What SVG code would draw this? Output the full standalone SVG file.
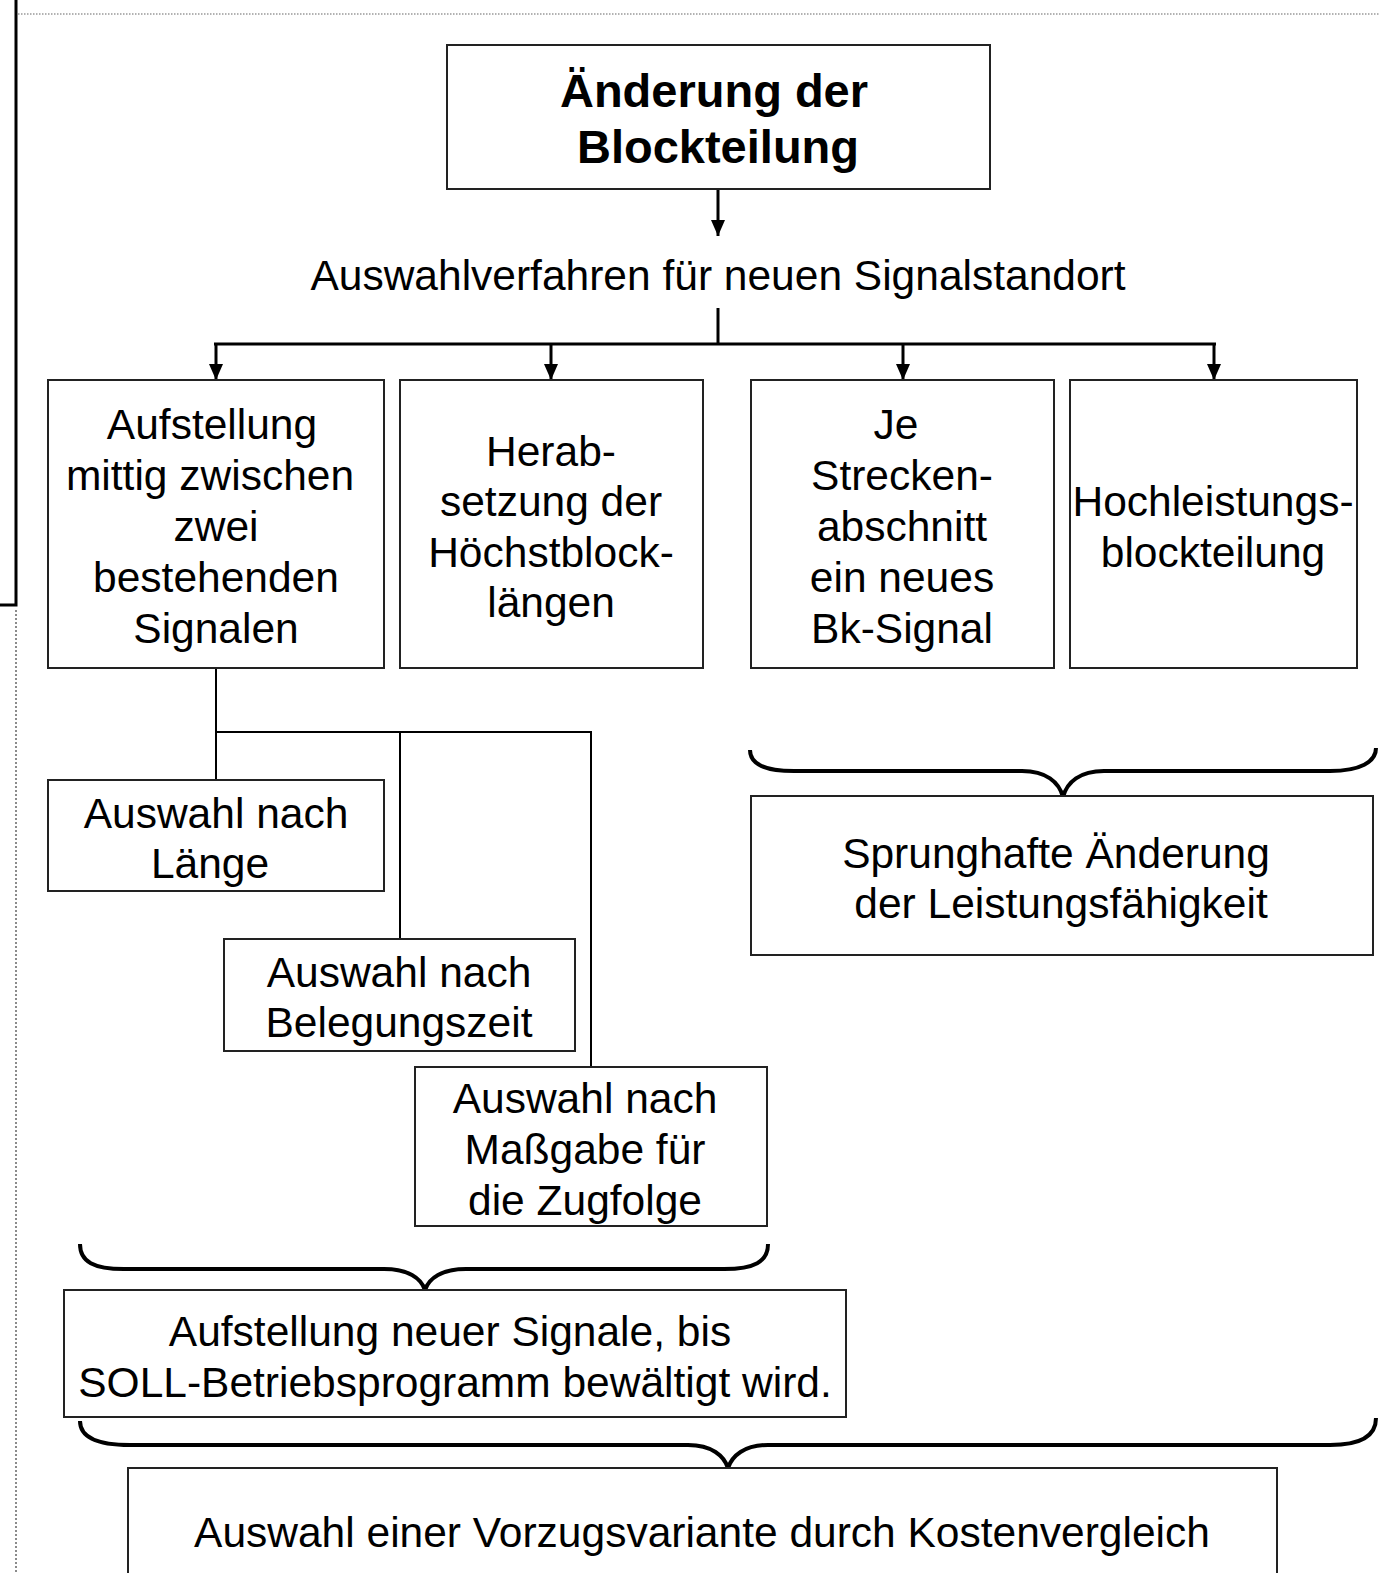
<svg xmlns="http://www.w3.org/2000/svg" width="1380" height="1573" viewBox="0 0 1380 1573">
<defs>
<style>
.box{fill:#fff;stroke:#222;stroke-width:2}
.t{font-family:"Liberation Sans",Arial,sans-serif;font-size:42.5px;fill:#000;text-anchor:middle}
.tb{font-family:"Liberation Sans",Arial,sans-serif;font-size:47px;font-weight:bold;fill:#000;text-anchor:middle}
.c3{fill:none;stroke:#000;stroke-width:3}
.c2{fill:none;stroke:#000;stroke-width:2}
.brace{fill:none;stroke:#000;stroke-width:4}
</style>
<marker id="ah" markerWidth="16" markerHeight="14" refX="16" refY="7" orient="auto" markerUnits="userSpaceOnUse" viewBox="0 0 16 14">
<path d="M0 0 L16 7 L0 14 Z" fill="#000"/>
</marker>
</defs>
<rect width="1380" height="1573" fill="#fff"/>
<g id="frame">
<line x1="18" y1="14" x2="1380" y2="14" stroke="#999" stroke-width="1.5" stroke-dasharray="1.5 1.5"/>
<polyline points="16,0 16,605 0,605" fill="none" stroke="#000" stroke-width="3"/>
<line x1="16" y1="610" x2="16" y2="1573" stroke="#666" stroke-width="1.5" stroke-dasharray="2 2"/>
</g>
<g id="connectors">
<line class="c3" x1="718" y1="189" x2="718" y2="236" marker-end="url(#ah)"/>
<line class="c3" x1="718" y1="308" x2="718" y2="344"/>
<line class="c3" x1="214" y1="344" x2="1216" y2="344"/>
<line class="c3" x1="216" y1="344" x2="216" y2="380" marker-end="url(#ah)"/>
<line class="c3" x1="551" y1="344" x2="551" y2="380" marker-end="url(#ah)"/>
<line class="c3" x1="903" y1="344" x2="903" y2="380" marker-end="url(#ah)"/>
<line class="c3" x1="1214" y1="344" x2="1214" y2="380" marker-end="url(#ah)"/>
<line class="c2" x1="216" y1="668" x2="216" y2="780"/>
<polyline class="c2" points="216,732 591,732 591,1067"/>
<line class="c2" x1="400" y1="732" x2="400" y2="939"/>
<path class="brace" d="M80 1244 C80 1262 94 1269 124 1269 L384 1269 C408 1269 421 1278 425 1290 C429 1278 442 1269 466 1269 L724 1269 C754 1269 768 1262 768 1244"/>
<path class="brace" d="M750 750 C750 764 764 771 794 771 L1022 771 C1046 771 1059 782 1063 797 C1067 782 1080 771 1104 771 L1330 771 C1360 771 1376 762 1376 748"/>
<path class="brace" d="M80 1421 C80 1437 96 1445 130 1445 L688 1445 C712 1445 724 1456 728 1468 C732 1456 744 1445 768 1445 L1330 1445 C1360 1445 1376 1436 1376 1418"/>
</g>
<g id="n-title">
<rect class="box" x="447" y="45" width="543" height="144"/>
<text class="tb" x="714" y="107">Änderung der</text>
<text class="tb" x="718" y="163">Blockteilung</text>
</g>
<g id="n-auswahlverfahren">
<text class="t" x="718" y="290">Auswahlverfahren für neuen Signalstandort</text>
</g>
<g id="n-aufstellung">
<rect class="box" x="48" y="380" width="336" height="288"/>
<text class="t" x="212" y="439">Aufstellung</text>
<text class="t" x="210" y="490">mittig zwischen</text>
<text class="t" x="216" y="541">zwei</text>
<text class="t" x="216" y="592">bestehenden</text>
<text class="t" x="216" y="643">Signalen</text>
</g>
<g id="n-herab">
<rect class="box" x="400" y="380" width="303" height="288"/>
<text class="t" x="551" y="466">Herab-</text>
<text class="t" x="551" y="516">setzung der</text>
<text class="t" x="551" y="567">Höchstblock-</text>
<text class="t" x="551" y="617">längen</text>
</g>
<g id="n-je">
<rect class="box" x="751" y="380" width="303" height="288"/>
<text class="t" x="896" y="439">Je</text>
<text class="t" x="902" y="490">Strecken-</text>
<text class="t" x="902" y="541">abschnitt</text>
<text class="t" x="902" y="592">ein neues</text>
<text class="t" x="902" y="643">Bk-Signal</text>
</g>
<g id="n-hochleistung">
<rect class="box" x="1070" y="380" width="287" height="288"/>
<text class="t" x="1213" y="516">Hochleistungs-</text>
<text class="t" x="1213" y="567">blockteilung</text>
</g>
<g id="n-laenge">
<rect class="box" x="48" y="780" width="336" height="111"/>
<text class="t" x="216" y="828">Auswahl nach</text>
<text class="t" x="210" y="878">Länge</text>
</g>
<g id="n-belegung">
<rect class="box" x="224" y="939" width="351" height="112"/>
<text class="t" x="399" y="987">Auswahl nach</text>
<text class="t" x="399" y="1037">Belegungszeit</text>
</g>
<g id="n-massgabe">
<rect class="box" x="415" y="1067" width="352" height="159"/>
<text class="t" x="585" y="1113">Auswahl nach</text>
<text class="t" x="585" y="1164">Maßgabe für</text>
<text class="t" x="585" y="1215">die Zugfolge</text>
</g>
<g id="n-sprunghaft">
<rect class="box" x="751" y="796" width="622" height="159"/>
<text class="t" x="1056" y="868">Sprunghafte Änderung</text>
<text class="t" x="1061" y="918">der Leistungsfähigkeit</text>
</g>
<g id="n-neue-signale">
<rect class="box" x="64" y="1290" width="782" height="127"/>
<text class="t" x="450" y="1346">Aufstellung neuer Signale, bis</text>
<text class="t" x="455" y="1397">SOLL-Betriebsprogramm bewältigt wird.</text>
</g>
<g id="n-vorzug">
<rect class="box" x="128" y="1468" width="1149" height="120"/>
<text class="t" x="702" y="1547">Auswahl einer Vorzugsvariante durch Kostenvergleich</text>
</g>
</svg>
